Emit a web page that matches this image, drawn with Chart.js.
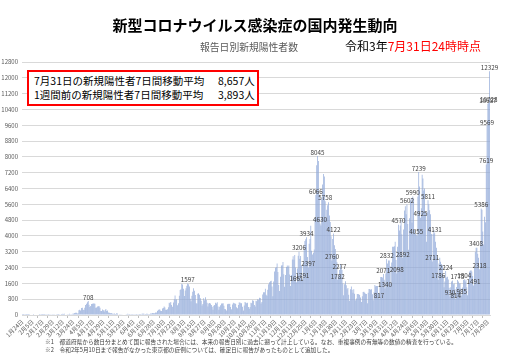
<!DOCTYPE html>
<html lang="ja">
<head>
<meta charset="utf-8">
<script src="https://cdn.jsdelivr.net/npm/chart.js@4.4.1/dist/chart.umd.min.js"></script>
<style>
  html, body { margin:0; padding:0; background:#fff; }
  body { width:508px; height:361px; position:relative; overflow:hidden;
         font-family:"Noto Sans CJK JP","Noto Sans",sans-serif; }
  #c { position:absolute; left:0; top:0; }
  .t { position:absolute; white-space:nowrap; line-height:1; }
  #title { left:0; width:510px; text-align:center; top:17px; font-size:15px; font-weight:700; color:#000; }
  #sub { left:200px; top:43px; font-size:9.8px; color:#595959; }
  #asof { left:345px; top:40px; font-size:12px; color:#000; }
  #asof span { color:#ff0000; }
  #box { position:absolute; left:27px; top:70px; width:228px; height:32px; border:2px solid #ff0000; background:#fff; }
  .bl { position:absolute; left:5px; font-size:10.5px; color:#000; white-space:nowrap; line-height:1; }
  .num { position:absolute; left:184px; }
  #f1 { left:45px; top:339px; font-size:5.7px; color:#404040; }
  #f2 { left:45px; top:347px; font-size:5.7px; color:#404040; }
</style>
</head>
<body>
<canvas id="c" width="508" height="361"></canvas>
<div class="t" id="title">新型コロナウイルス感染症の国内発生動向</div>
<div class="t" id="sub">報告日別新規陽性者数</div>
<div class="t" id="asof">令和3年<span>7月31日24時時点</span></div>
<div id="box">
  <div class="bl" style="top:4px">7月31日の新規陽性者7日間移動平均<span class="num" id="avgNow"></span></div>
  <div class="bl" style="top:18px">1週間前の新規陽性者7日間移動平均<span class="num" id="avgPrev"></span></div>
</div>
<div class="t" id="f1">※1　都道府県から数日分まとめて国に報告された場合には、本来の報告日別に過去に遡って計上している。なお、重複事例の有無等の数値の精査を行っている。</div>
<div class="t" id="f2">※2　令和2年5月10日まで報告がなかった東京都の症例については、確定日に報告があったものとして追加した。</div>
<script>
// ---- data (報告日別新規陽性者数), first day 2020-01-24 ----
const startDate = [2020, 1, 24];
const cases2020Jan = [1, 1, 1, 0, 2, 1, 3, 5];
const cases2020Feb = [1, 0, 0, 0, 0, 2, 0, 0, 0, 0, 0, 0, 4, 8, 7, 6, 6, 4, 3, 10, 11, 12, 8, 4, 10, 14, 21, 16, 12];
const cases2020Mar = [13, 14, 19, 33, 34, 53, 46, 33, 25, 55, 54, 57, 49, 64, 29, 25, 42, 44, 38, 60, 38, 40, 38, 70, 65, 96, 112, 120, 72, 84, 240];
const cases2020Apr = [266, 229, 353, 368, 262, 256, 371, 503, 570, 640, 708, 513, 403, 460, 552, 575, 583, 578, 569, 372, 379, 431, 440, 440, 370, 200, 205, 283, 245, 180];
const cases2020May = [259, 306, 202, 229, 125, 112, 99, 89, 107, 64, 65, 74, 53, 55, 99, 63, 29, 39, 35, 27, 35, 24, 30, 25, 21, 33, 38, 58, 33, 52, 37];
const cases2020Jun = [34, 52, 42, 41, 39, 40, 47, 32, 43, 38, 52, 51, 43, 72, 50, 76, 41, 45, 68, 59, 56, 42, 56, 80, 75, 104, 104, 92, 86, 131];
const cases2020Jul = [126, 203, 250, 274, 274, 210, 207, 330, 357, 432, 385, 270, 260, 293, 393, 622, 592, 660, 509, 413, 629, 800, 981, 770, 794, 487, 599, 980, 1264, 1300, 1580];
const cases2020Aug = [1539, 1330, 960, 1236, 1357, 1485, 1597, 1560, 1444, 823, 696, 979, 1178, 1358, 1230, 1006, 600, 579, 1074, 1100, 1030, 850, 725, 479, 555, 850, 752, 902, 765, 622, 430];
const cases2020Sep = [587, 613, 580, 511, 420, 271, 464, 510, 620, 580, 640, 436, 268, 420, 495, 581, 581, 590, 470, 300, 290, 228, 545, 572, 556, 570, 411, 292, 530, 620];
const cases2020Oct = [580, 590, 562, 390, 339, 509, 633, 630, 589, 599, 416, 232, 477, 660, 622, 598, 620, 400, 320, 400, 622, 593, 740, 723, 509, 432, 717, 700, 800, 770, 868];
const cases2020Nov = [860, 580, 660, 1040, 1151, 1146, 1333, 1024, 972, 1280, 1550, 1660, 1710, 1730, 1437, 943, 1690, 2200, 2390, 2420, 2600, 2170, 1520, 1220, 1940, 2510, 2520, 2680, 2060, 1430];
const cases2020Dec = [2030, 2430, 2510, 2440, 2500, 2050, 1470, 2020, 2810, 2970, 2790, 3040, 2400, 1661, 2350, 3000, 3206, 2840, 2990, 2490, 1791, 2630, 3270, 3740, 3830, 3934, 2940, 2397, 3600, 3850, 4520];
const cases2021Jan = [3250, 3060, 3150, 3320, 4900, 6066, 7570, 8045, 7790, 6090, 4630, 4530, 5870, 6600, 7130, 7010, 5758, 4920, 5320, 5550, 5700, 5040, 4710, 3990, 2760, 3850, 4122, 3530, 3340, 3010, 2670];
const cases2021Feb = [1782, 1960, 2277, 2576, 2360, 2280, 1600, 1000, 1560, 1710, 1500, 1300, 1360, 1030, 720, 1300, 1440, 1280, 1120, 1300, 1080, 740, 830, 1060, 1060, 1050, 1010, 880];
const cases2021Mar = [660, 950, 1160, 1170, 1130, 1080, 1060, 600, 1130, 1310, 1320, 1280, 1300, 1050, 740, 1150, 1520, 1460, 1470, 1470, 1110, 817, 1520, 1920, 1920, 1900, 2071, 1780, 1340, 2100, 2832];
const cases2021Apr = [2600, 2760, 2760, 2470, 1573, 2660, 3450, 3450, 3480, 3700, 2780, 2098, 3450, 4570, 4280, 4530, 4800, 4090, 2892, 4330, 5290, 5500, 5100, 5602, 4600, 3300, 4900, 5790, 5920, 4680];
const cases2021May = [5990, 5900, 4300, 4100, 4055, 4000, 6000, 7239, 6500, 4925, 5400, 7100, 6900, 6300, 6400, 5200, 3700, 5200, 5811, 5600, 5300, 5100, 4100, 2711, 4100, 4300, 4131, 3700, 3400, 2900, 1786];
const cases2021Jun = [2600, 2900, 2700, 2580, 2500, 2000, 1400, 1700, 2224, 1900, 1940, 1800, 1380, 930, 1400, 1700, 1740, 1550, 1600, 1310, 814, 1420, 1775, 1700, 1600, 1610, 1340, 985, 1390, 1770];
const cases2021Jul = [1804, 1700, 1780, 1400, 1000, 1600, 2190, 2240, 2270, 2200, 1970, 1491, 2380, 3190, 3408, 3400, 3100, 2900, 2318, 3530, 5386, 5320, 4225, 3572, 4975, 4692, 7619, 9569, 10687, 10728, 12329];

// bars whose values are printed on the chart
const labeledDates = ['2020-04-11','2020-08-07','2020-12-14','2020-12-17','2020-12-21','2020-12-26','2020-12-28',
  '2021-01-06','2021-01-08','2021-01-11','2021-01-17','2021-01-25','2021-01-27','2021-02-01','2021-02-03',
  '2021-03-22','2021-03-27','2021-03-29','2021-03-31','2021-04-12','2021-04-14','2021-04-19','2021-04-24',
  '2021-05-01','2021-05-05','2021-05-08','2021-05-10','2021-05-19','2021-05-24','2021-05-27','2021-05-31',
  '2021-06-09','2021-06-14','2021-06-21','2021-06-23','2021-06-28','2021-07-01','2021-07-12','2021-07-15',
  '2021-07-19','2021-07-21','2021-07-27','2021-07-28','2021-07-29','2021-07-30','2021-07-31'];
const labelEveryDays = 12;
const yTickStep = 400;
const yMax = 12800;

const dailyCases = [].concat(cases2020Jan, cases2020Feb, cases2020Mar, cases2020Apr, cases2020May, cases2020Jun,
  cases2020Jul, cases2020Aug, cases2020Sep, cases2020Oct, cases2020Nov, cases2020Dec,
  cases2021Jan, cases2021Feb, cases2021Mar, cases2021Apr, cases2021May, cases2021Jun, cases2021Jul);

// categories (dates)
const dateKeys = [], dateLabels = [];
for (let i = 0; i < dailyCases.length; i++) {
  const d = new Date(Date.UTC(startDate[0], startDate[1]-1, startDate[2] + i));
  const m = d.getUTCMonth()+1, dd = d.getUTCDate();
  dateKeys.push(d.getUTCFullYear() + '-' + String(m).padStart(2,'0') + '-' + String(dd).padStart(2,'0'));
  dateLabels.push(m + '月' + dd + '日');
}

// 7-day averages for the box
function avg7(endIdx){ let s=0; for(let k=endIdx-6;k<=endIdx;k++) s+=dailyCases[k]; return Math.round(s/7); }
const last = dailyCases.length-1;
document.getElementById('avgNow').textContent = avg7(last).toLocaleString('en-US') + '人';
document.getElementById('avgPrev').textContent = avg7(last-7).toLocaleString('en-US') + '人';

Chart.defaults.font.family = '"Noto Sans CJK JP","Noto Sans",sans-serif';

const valueLabels = {
  id: 'valueLabels',
  afterDatasetsDraw(chart) {
    const meta = chart.getDatasetMeta(0);
    const c = chart.ctx;
    c.save();
    c.font = '6.3px "Noto Sans CJK JP","Noto Sans",sans-serif';
    c.fillStyle = '#404040';
    c.textAlign = 'center';
    c.textBaseline = 'bottom';
    labeledDates.forEach(k => {
      const i = dateKeys.indexOf(k);
      if (i < 0) return;
      const el = meta.data[i];
      c.fillText(String(dailyCases[i]), el.x, el.y - 0.5);
    });
    c.restore();
  }
};

new Chart(document.getElementById('c'), {
  type: 'bar',
  data: {
    labels: dateLabels,
    datasets: [{
      data: dailyCases,
      backgroundColor: '#8EA7D8',
      borderWidth: 0,
      barPercentage: 0.8,
      categoryPercentage: 1.0
    }]
  },
  options: {
    responsive: false,
    animation: false,
    devicePixelRatio: 1,
    layout: { padding: { top: 62, right: 18, left: 0, bottom: 0 } },
    plugins: { legend: { display: false }, tooltip: { enabled: false }, title: { display: false } },
    scales: {
      x: {
        grid: { display: true, drawOnChartArea: false, color: '#BFBFBF', tickLength: 3 },
        border: { color: '#D9D9D9' },
        ticks: {
          autoSkip: false, minRotation: 45, maxRotation: 45, padding: 0,
          font: { size: 6 }, color: '#595959',
          callback: (v, i) => (i % labelEveryDays === 0 ? dateLabels[i] : null)
        },
        afterFit(s) { s.height = 46; s.paddingLeft = 0; s.paddingRight = 0; }
      },
      y: {
        min: 0, max: yMax,
        ticks: { stepSize: yTickStep, font: { size: 6 }, color: '#595959', padding: 4,
                 callback: v => String(v) },
        grid: { color: '#D9D9D9', drawTicks: false },
        border: { display: false },
        afterFit(s) { s.width = 22; }
      }
    }
  },
  plugins: [valueLabels]
});
</script>
</body>
</html>
